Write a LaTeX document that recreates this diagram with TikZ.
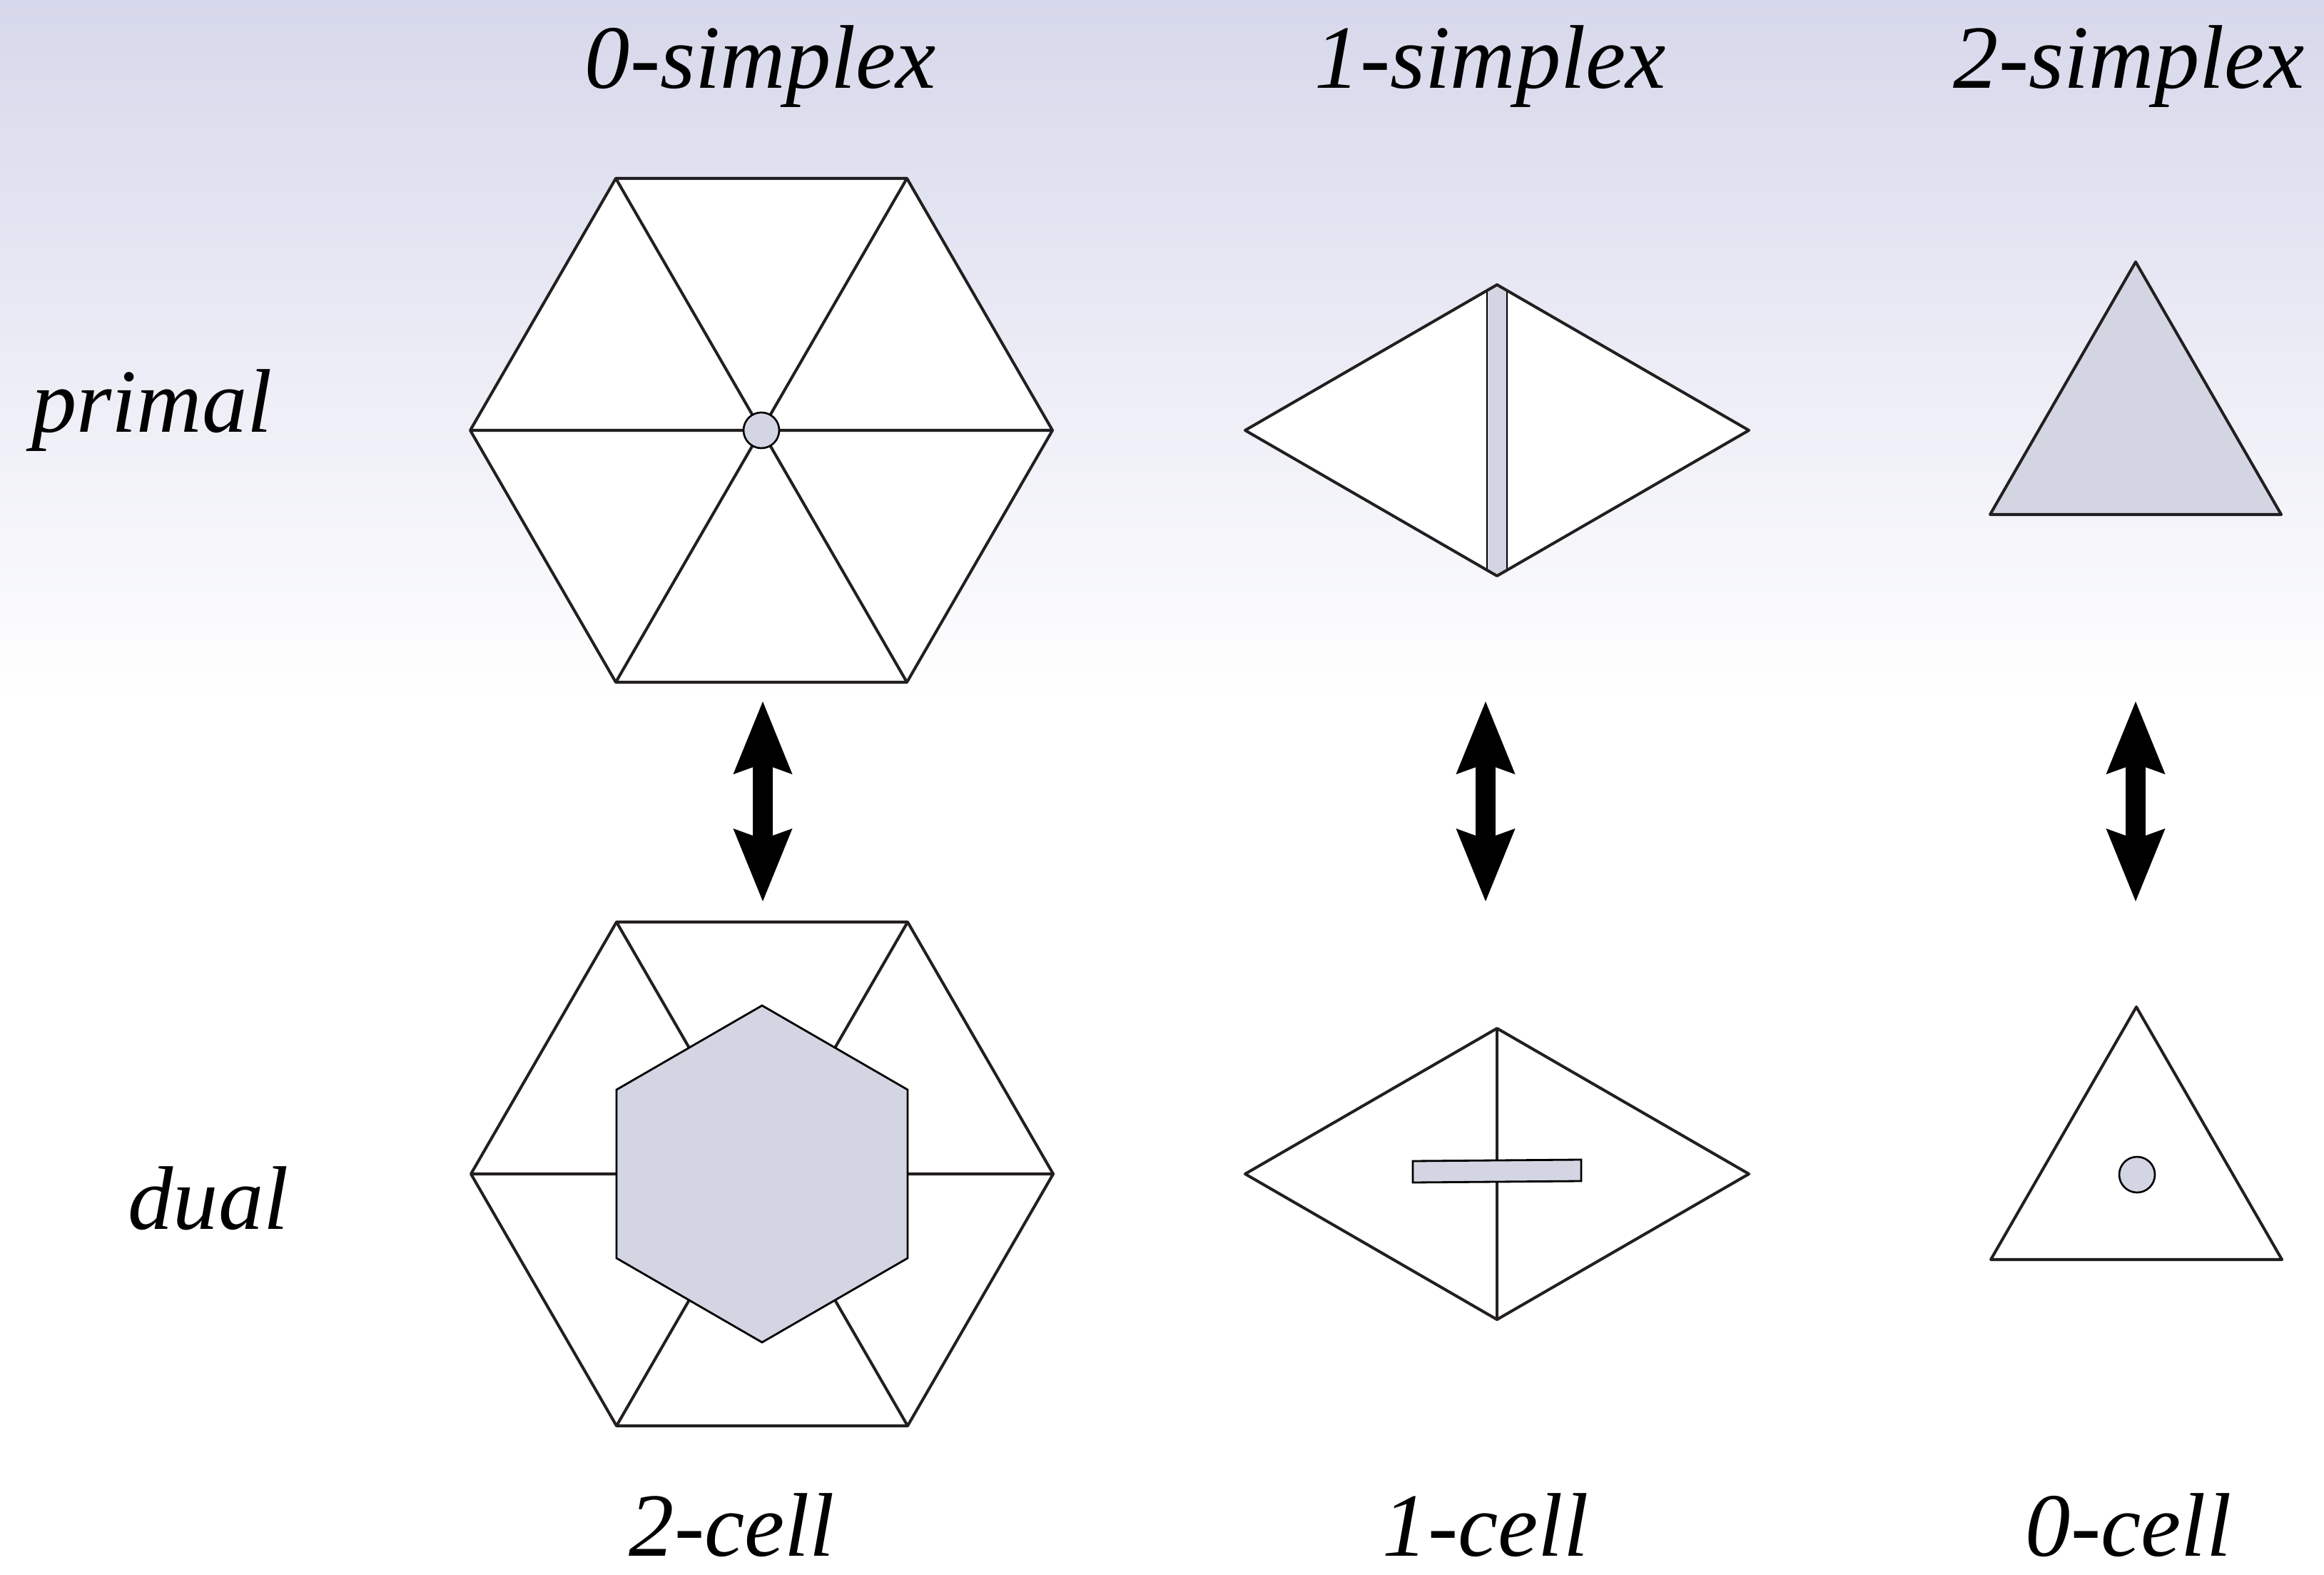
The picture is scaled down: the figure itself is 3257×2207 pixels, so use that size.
\documentclass[tikz,border=0pt]{standalone}
\usepackage{fontspec}
\setmainfont{Liberation Serif}[ItalicFont={Liberation Serif Italic}]
\usetikzlibrary{arrows.meta}
\definecolor{cellfill}{RGB}{211,213,227}
\definecolor{bgtop}{RGB}{214,216,235}
\definecolor{ink}{RGB}{35,31,32}
\tikzset{
  lbl/.style={inner sep=0pt, anchor=base, font=\fontsize{36}{40}\selectfont\itshape},
  edge/.style={draw=ink, line width=1.15pt, line join=round},
  face/.style={fill=white},
  cell/.style={fill=cellfill, draw=black, line width=0.8pt},
  thincell/.style={fill=cellfill, draw=black, line width=0.6pt},
  dualarrow/.style={line width=0.28cm, draw=black,
    {Stealth[length=1.02cm, width=0.83cm, inset=0.15cm, line width=0pt]}-{Stealth[length=1.02cm, width=0.83cm, inset=0.15cm, line width=0pt]}}
}
\begin{document}
\begin{tikzpicture}[x=0.01cm, y=-0.01cm]
\useasboundingbox (0,0) rectangle (3257,2207);
% background
\shade[top color=bgtop, bottom color=white] (0,0) rectangle (3257,985);
\fill[white] (0,984) rectangle (3257,2207);

% labels
\node[lbl] (t0) at (1066,124) {0-simplex};
\node[lbl] (t1) at (2089,124) {1-simplex};
\node[lbl] (t2) at (2984,124) {2-simplex};
\node[lbl] (tp) at (213,606) {primal};
\node[lbl] (td) at (292,1722) {dual};
\node[lbl] (b2) at (1026,2180) {2-cell};
\node[lbl] (b1) at (2082,2180) {1-cell};
\node[lbl] (b0) at (2983,2180) {0-cell};

% ---------- primal 0-simplex (hexagon) ----------
\coordinate (pc) at (1067,603);
\fill[face] (1475,603) -- (1271,956) -- (863,956) -- (659,603) -- (863,250) -- (1271,250) -- cycle;
\draw[edge] (pc) -- (1475,603) (pc) -- (1271,956) (pc) -- (863,956)
            (pc) -- (659,603) (pc) -- (863,250) (pc) -- (1271,250);
\draw[edge] (1475,603) -- (1271,956) -- (863,956) -- (659,603) -- (863,250) -- (1271,250) -- cycle;
\draw[fill=cellfill, draw=black, line width=0.75pt] (pc) circle (25);

% ---------- primal 1-simplex (diamond) ----------
\fill[face] (1745,603) -- (2098,399) -- (2451,603) -- (2098,807) -- cycle;
\begin{scope}
  \clip (1745,603) -- (2098,399) -- (2451,603) -- (2098,807) -- cycle;
  \draw[thincell] (2084,380) rectangle (2112,830);
\end{scope}
\draw[edge] (1745,603) -- (2098,399) -- (2451,603) -- (2098,807) -- cycle;

% ---------- primal 2-simplex (triangle) ----------
\draw[edge, fill=cellfill] (2993,367) -- (3197,721) -- (2789,721) -- cycle;

% ---------- arrows ----------
\coordinate (a1t) at (1069,983); \coordinate (a1b) at (1069,1263);
\coordinate (a2t) at (2082,983); \coordinate (a2b) at (2082,1263);
\coordinate (a3t) at (2993,983); \coordinate (a3b) at (2993,1263);
\draw[dualarrow] (a1t) -- (a1b);
\draw[dualarrow] (a2t) -- (a2b);
\draw[dualarrow] (a3t) -- (a3b);

% ---------- dual 2-cell (hexagon) ----------
\coordinate (dc) at (1068,1645);
\fill[face] (1476,1645) -- (1272,1998) -- (864,1998) -- (660,1645) -- (864,1292) -- (1272,1292) -- cycle;
\draw[edge] (dc) -- (1476,1645) (dc) -- (1272,1998) (dc) -- (864,1998)
            (dc) -- (660,1645) (dc) -- (864,1292) (dc) -- (1272,1292);
\draw[edge] (1476,1645) -- (1272,1998) -- (864,1998) -- (660,1645) -- (864,1292) -- (1272,1292) -- cycle;
\draw[cell] (1068,1409) -- (1272,1527) -- (1272,1763) -- (1068,1881) -- (864,1763) -- (864,1527) -- cycle;

% ---------- dual 1-cell (diamond) ----------
\fill[face] (1745,1645) -- (2098,1441) -- (2451,1645) -- (2098,1849) -- cycle;
\draw[edge] (1745,1645) -- (2098,1441) -- (2451,1645) -- (2098,1849) -- cycle;
\draw[edge] (2098,1441) -- (2098,1849);
\draw[cell] (1980,1627) -- (2216,1625) -- (2216,1655) -- (1980,1657) -- cycle;

% ---------- dual 0-cell (triangle) ----------
\draw[edge, fill=white] (2994,1411) -- (3198,1765) -- (2790,1765) -- cycle;
\draw[fill=cellfill, draw=black, line width=0.75pt] (2995,1646) circle (25);
\end{tikzpicture}
\end{document}
